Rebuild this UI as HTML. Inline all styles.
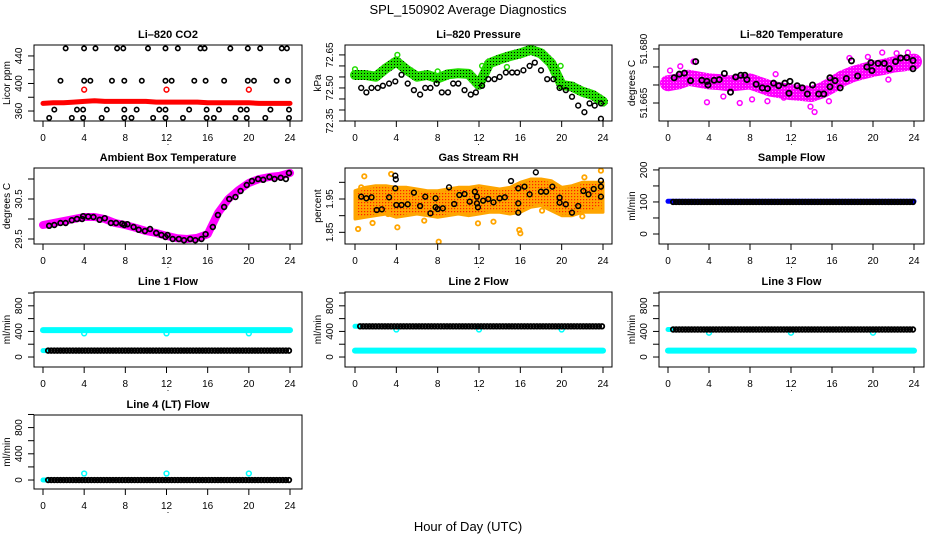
<!DOCTYPE html>
<html><head><meta charset="utf-8"><style>
html,body{margin:0;padding:0;background:#fff;}
svg{display:block;font-family:"Liberation Sans",sans-serif;}
</style></head><body>
<svg id="chart" width="936" height="540" viewBox="0 0 936 540" xmlns="http://www.w3.org/2000/svg">
<defs>
<pattern id="greenPat" width="3" height="3" patternUnits="userSpaceOnUse"><rect width="3" height="3" fill="#22dd00"/><rect x="1" y="1" width="1" height="1" fill="#000"/></pattern>
<pattern id="orangePat" width="3" height="3" patternUnits="userSpaceOnUse"><rect width="3" height="3" fill="#ffa500"/><rect x="1" y="1" width="1.2" height="1.2" fill="#ff2000"/></pattern>
<pattern id="magPat" width="3" height="3" patternUnits="userSpaceOnUse"><rect width="3" height="3" fill="#ff00ff"/><rect x="1" y="1" width="1" height="1" fill="#ff80ff"/></pattern>
</defs>
<text x="468" y="14" text-anchor="middle" font-size="13">SPL_150902  Average Diagnostics</text>
<text x="468" y="531" text-anchor="middle" font-size="13">Hour of Day (UTC)</text>
</svg>
<script>
// ---- data ----
const hrs = [0,1,2,3,4,5,6,7,8,9,10,11,12,13,14,15,16,17,18,19,20,21,22,23,24];
const co2Band = [371,372,372,373,374,375,374,374,374,374,374,373,373,373,373,373,372,372,372,372,372,371,371,371,371];
const co2OutT = [4,12,20];
const co2OutV = [391,391,391];
const co2T = [2.2,3.99,5.1,7.2,7.8,10.2,11.9,13.1,15.3,15.7,18.2,19.9,21.1,23.2,23.7, 1.7,4.0,4.6,6.7,7.9,9.6,11.9,12.5,14.7,15.8,17.6,19.9,20.5,22.7,23.8, 1.1,3.3,3.9,6.2,7.9,9.1,11.3,11.9,14.2,15.9,17.1,19.2,19.8,22.1,23.9, 0.6,2.8,3.9,5.7,7.9,8.6,10.7,11.9,13.6,15.9,16.6,18.7,19.8,21.6,23.9];
const co2V = [451,451,451,451,451,451,451,451,451,451,451,451,451,451,451, 404,404,404,404,404,404,404,404,404,404,404,404,404,404,404, 362,362,362,362,362,362,362,362,362,362,362,362,362,362,362, 350,350,350,350,350,350,350,350,350,350,350,350,350,350,350];

const presBand = [72.559,72.559,72.551,72.589,72.620,72.582,72.551,72.559,72.544,72.562,72.567,72.564,72.514,72.612,72.630,72.645,72.657,72.673,72.657,72.612,72.514,72.506,72.483,72.468,72.438];
const presOutT = [0.0,4.1,4.5,8.0,12.3,14.7,19.9];
const presOutV = [72.585,72.650,72.605,72.575,72.600,72.595,72.600];
const presT = [0.6,1.1,1.6,2.2,2.7,3.3,3.9,4.5,5.1,5.7,6.3,6.8,7.3,7.9,8.4,9.0,9.5,10.0,10.6,11.2,11.7,12.3,12.9,13.5,14.0,14.6,15.2,15.7,16.3,16.9,17.4,18.0,18.6,19.2,19.8,20.4,21.0,21.6,22.2,22.7,23.2,23.8,23.8];
const presV = [72.50,72.48,72.50,72.50,72.51,72.52,72.53,72.56,72.52,72.49,72.47,72.50,72.50,72.52,72.48,72.48,72.52,72.52,72.49,72.47,72.48,72.51,72.54,72.54,72.55,72.57,72.57,72.57,72.58,72.60,72.615,72.58,72.54,72.54,72.50,72.49,72.46,72.42,72.39,72.43,72.42,72.43,72.36];

const tempBand = [51.6705,51.671,51.672,51.6715,51.671,51.6708,51.6704,51.6707,51.671,51.670,51.669,51.6685,51.668,51.6678,51.6675,51.6685,51.670,51.6718,51.673,51.6738,51.6745,51.675,51.6757,51.676,51.6765];
const tempOutT = [0.2,1.2,2.5,3.8,5.4,7.0,8.2,9.7,11.3,12.8,13.9,14.3,15.7,17.7,19.5,20.9,22.3,23.4,21.5,10.5];
const tempOutV = [51.6740,51.6752,51.6765,51.6652,51.6668,51.6650,51.6660,51.6655,51.6665,51.6690,51.6640,51.6625,51.6655,51.6775,51.6778,51.6790,51.6788,51.6790,51.6715,51.6730];
const tempT = [0.6,1.1,1.6,2.2,2.7,3.3,3.8,3.9,4.5,5.0,5.5,6.1,6.6,7.1,7.5,7.7,8.6,9.2,9.7,10.3,10.8,11.4,11.8,11.9,12.6,13.1,13.6,14.1,14.7,15.2,15.8,15.8,16.3,16.8,17.4,17.9,18.5,19.4,19.8,19.9,20.5,21.1,21.6,22.2,22.7,23.3,23.9,23.9];
const tempV = [51.6720,51.6730,51.6733,51.6712,51.6765,51.6713,51.6710,51.6700,51.6713,51.6715,51.6732,51.6680,51.6722,51.6727,51.6727,51.6715,51.6702,51.6692,51.6690,51.6705,51.6698,51.6705,51.6677,51.6710,51.6698,51.6692,51.6675,51.6700,51.6675,51.6675,51.6695,51.6720,51.6712,51.6692,51.6718,51.6767,51.6725,51.6750,51.6762,51.6740,51.6760,51.6760,51.6745,51.6765,51.6775,51.6776,51.6768,51.6745];

const ambBand = [29.85,29.9,29.95,30.0,30.05,30.05,30.0,29.9,29.85,29.78,29.7,29.65,29.58,29.52,29.5,29.53,29.62,30.15,30.5,30.72,30.9,31.0,31.05,31.08,31.15];
const ambT = [0.6,1.1,1.7,2.2,2.8,3.3,3.8,3.9,4.4,4.9,5.5,6.0,6.6,7.1,7.7,7.9,8.2,8.8,9.3,9.9,10.4,11.0,11.5,11.9,12.1,12.6,13.2,13.7,14.3,14.8,15.4,15.8,16.5,17.0,17.6,18.1,18.7,19.2,19.8,20.3,20.9,21.4,22.0,22.5,23.1,23.6,23.9];
const ambV = [29.83,29.85,29.9,29.9,29.97,30.0,30.0,30.07,30.06,30.05,29.98,30.02,29.9,29.9,29.88,29.85,29.87,29.8,29.73,29.7,29.75,29.65,29.6,29.55,29.6,29.5,29.5,29.47,29.5,29.47,29.5,29.62,29.8,30.1,30.3,30.5,30.55,30.7,30.85,30.95,31.0,30.98,31.05,31.0,31.03,31.0,31.15];

const rhHi = [1.975,1.985,1.99,1.99,1.985,1.985,1.98,1.975,1.975,1.98,1.985,1.985,1.99,1.985,1.98,1.985,2.0,2.01,2.01,2.005,1.985,1.99,2.0,2.0,2.0];
const rhLo = [1.89,1.895,1.9,1.905,1.895,1.9,1.905,1.9,1.895,1.9,1.905,1.9,1.905,1.91,1.91,1.905,1.91,1.925,1.93,1.915,1.9,1.9,1.91,1.91,1.91];
const rhOutT = [0.3,0.9,1.7,3.2,3.5,4.1,6.7,8.1,11.9,13.4,15.9,16.0,18.1,22.0,22.2,23.8,23.4,0.6,5.9];
const rhOutV = [1.86,2.018,1.878,1.905,2.025,1.865,1.885,1.822,1.877,1.882,1.857,1.847,1.915,1.898,2.015,2.035,1.917,1.985,1.965];
const rhT = [0.6,1.1,1.6,2.1,2.6,3.3,3.9,3.95,3.9,4.0,4.5,5.1,5.7,6.3,6.8,7.3,7.8,7.8,8.0,8.5,9.1,9.6,10.1,10.6,11.1,11.6,11.8,11.9,11.8,12.4,12.9,13.4,14.0,14.5,15.1,15.8,15.8,15.8,16.4,16.9,17.5,18.0,18.5,19.1,19.8,19.8,20.4,21.0,21.6,22.1,22.6,23.1,23.8,23.8,23.8];
const rhV = [1.957,1.952,1.955,1.917,1.919,1.955,2.020,2.009,1.982,1.932,1.932,1.934,1.969,1.929,1.957,1.907,1.952,1.925,1.920,1.922,1.985,1.935,1.962,1.965,1.942,1.972,1.957,1.925,1.937,1.945,1.950,1.940,1.952,1.955,2.004,1.982,1.937,1.909,1.987,1.964,2.030,1.972,1.972,1.987,1.954,1.939,1.934,1.909,1.929,1.974,1.964,1.980,2.005,1.987,1.957];

const sampleBlue = 102;
const sampleBlack = 100;
const line1Cyan = 420, line1Black = 100, line1Out = 370;
const line2Cyan = 100, line2Black = 480, line2Out = 430;
const line3Cyan = 100, line3Black = 430, line3Out = 380;
const line4Cyan = 0, line4Black = 0, line4Out = 100;
const flowOutT = [4,12,20];
const xTicks = [0,4,8,12,16,20,24];

// ---- layout ----
const svg = document.getElementById('chart');
const NS = 'http://www.w3.org/2000/svg';
const cols = [{L:34,R:302,x0:43,x24:290},{L:345,R:612,x0:355,x24:603},{L:659,R:924,x0:668,x24:914}];
const rows = [{T:45,B:121},{T:168,B:244},{T:292,B:367},{T:415,B:489}];

function el(tag, attrs, parent){
  const e = document.createElementNS(NS, tag);
  for (const k in attrs) e.setAttribute(k, attrs[k]);
  (parent||svg).appendChild(e);
  return e;
}

function panel(c, r, name, title, ylab, ymin, ymax, ticks, labs){
  const C = cols[c], R = rows[r];
  const g = el('g', {});
  
  
  const p = {g:g, C:C, R:R,
    x: h => C.x0 + h*(C.x24-C.x0)/24,
    y: v => R.B - (v-ymin)/(ymax-ymin)*(R.B-R.T)};
  const clip = el('clipPath', {id:'clip-'+name}, g);
  el('rect', {x:C.L, y:R.T, width:C.R-C.L, height:R.B-R.T}, clip);
  p.plot = el('g', {'clip-path':'url(#clip-'+name+')'}, g);
  
  
  const t = el('text', {x:(C.L+C.R)/2, y:R.T-7, 'text-anchor':'middle', 'font-size':'11', 'font-weight':'bold'}, g);
  t.textContent = title;
  
  
  const box = el('rect', {x:C.L, y:R.T, width:C.R-C.L, height:R.B-R.T, fill:'none', stroke:'#000', 'stroke-width':'1'}, g);
  
  
  const xa = el('g', {}, g);
  
  
  el('line', {x1:p.x(0), x2:p.x(24), y1:R.B, y2:R.B, stroke:'#000'}, xa);
  xTicks.forEach(h => {
    el('line', {x1:p.x(h), x2:p.x(h), y1:R.B, y2:R.B+6, stroke:'#000'}, xa);
    const tl = el('text', {x:p.x(h), y:R.B+20, 'text-anchor':'middle', 'font-size':'10'}, xa);
    tl.textContent = h;
    
    
  });
  const dot = el('text', {x:(C.L+C.R)/2, y:R.B+24, 'text-anchor':'middle', 'font-size':'9'}, xa);
  dot.textContent = '.';
  const ya = el('g', {}, g);
  
  
  el('line', {x1:C.L, x2:C.L, y1:p.y(ticks[0]), y2:p.y(ticks[ticks.length-1]), stroke:'#000'}, ya);
  ticks.forEach(v => el('line', {x1:C.L-6, x2:C.L, y1:p.y(v), y2:p.y(v), stroke:'#000'}, ya));
  labs.forEach(s => {
    const yy = p.y(parseFloat(s));
    const tl = el('text', {x:C.L-12, y:yy, 'text-anchor':'middle', 'font-size':'10', transform:'rotate(-90 '+(C.L-12)+' '+yy+')'}, ya);
    tl.textContent = s;
    
    
  });
  const yl = el('text', {x:C.L-24, y:(R.T+R.B)/2, 'text-anchor':'middle', 'font-size':'10', transform:'rotate(-90 '+(C.L-24)+' '+((R.T+R.B)/2)+')'}, ya);
  yl.textContent = ylab;
  
  
  return p;
}

function band(p, ts, vs, color, width, nm){
  const pts = ts.map((h,i) => p.x(h).toFixed(1)+','+p.y(vs[i]).toFixed(1)).join(' ');
  const pl = el('polyline', {points:pts, fill:'none', stroke:color, 'stroke-width':width, 'stroke-linejoin':'round', 'stroke-linecap':'round'}, p.plot);
  
  
}
function area(p, ts, hi, lo, fill, nm){
  const up = ts.map((h,i) => p.x(h).toFixed(1)+','+p.y(hi[i]).toFixed(1));
  const dn = ts.map((h,i) => p.x(h).toFixed(1)+','+p.y(lo[i]).toFixed(1)).reverse();
  const pg = el('polygon', {points:up.concat(dn).join(' '), fill:fill, stroke:'#ffa500', 'stroke-width':'3', 'stroke-linejoin':'round'}, p.plot);
  
  
}
function pts(p, ts, vs, color, nm, r, sw){
  const g = el('g', {}, p.plot);
  
  
  ts.forEach((h,i) => {
    const c = el('circle', {cx:p.x(h), cy:p.y(vs[i]), r:r||2.4, fill:'none', stroke:color, 'stroke-width':sw||1.5}, g);
    
    
  });
}
function flowTimes(){ const a=[]; for (let t=0.5; t<=23.95; t+=0.3) a.push(t); return a; }
const fT = flowTimes();
const fill = (arr, v) => arr.map(() => v);

let p = panel(0,0,'co2-panel','Li\u2013820 CO2','Licor ppm',345.5,455.9,[360,380,400,420,440],['360','400','440']);
band(p, hrs, co2Band, '#ff0000', 5, 'co2-red-series');
pts(p, co2OutT, co2OutV, '#ff0000', 'co2-red-outliers');
pts(p, co2T, co2V, '#000', 'co2-black-series', 2.2, 1.6);

p = panel(1,0,'pressure-panel','Li\u2013820 Pressure','kPa',72.35,72.695,[72.35,72.40,72.45,72.50,72.55,72.60,72.65],['72.35','72.50','72.65']);
band(p, hrs, presBand, 'url(#greenPat)', 10, 'pressure-green-series');
pts(p, presOutT, presOutV, '#22dd00', 'pressure-green-outliers');
pts(p, presT, presV, '#000', 'pressure-black-series');

p = panel(2,0,'temperature-panel','Li\u2013820 Temperature','degrees C',51.660,51.6811,[51.665,51.670,51.675,51.680],['51.665','51.680']);
band(p, hrs, tempBand, 'url(#magPat)', 16, 'temperature-magenta-series');
pts(p, tempOutT, tempOutV, '#ff00ff', 'temperature-magenta-outliers');
pts(p, tempT, tempV, '#000', 'temperature-black-series', 2.6, 1.8);

p = panel(0,1,'ambient-panel','Ambient Box Temperature','degrees C',29.375,31.275,[29.5,30,30.5,31],['29.5','30.5']);
band(p, hrs, ambBand, '#ff00ff', 8, 'ambient-magenta-series');
pts(p, ambT, ambV, '#000', 'ambient-black-series', 2.4, 1.7);

p = panel(1,1,'rh-panel','Gas Stream RH','percent',1.815,2.043,[1.85,1.90,1.95,2.00],['1.85','1.95']);
area(p, hrs, rhHi, rhLo, 'url(#orangePat)', 'rh-orange-series');
pts(p, rhOutT, rhOutV, '#ffa500', 'rh-orange-outliers', 2.2, 1.8);
pts(p, rhT, rhV, '#000', 'rh-black-series');

p = panel(2,1,'sample-flow-panel','Sample Flow','ml/min',-31.25,206,[0,50,100,150,200],['0','100','200']);
band(p, [0,24], [sampleBlue,sampleBlue], '#0000ff', 5, 'sample-blue-series');
pts(p, fT, fill(fT, sampleBlack), '#000', 'sample-black-series', 2.3, 1.8);

const flowTicks = [0,200,400,600,800,1000], flowLabs = ['0','400','800'];
p = panel(0,2,'line1-panel','Line 1 Flow','ml/min',-156,1016,flowTicks,flowLabs);
band(p, [0,24], [line1Cyan,line1Cyan], '#00ffff', 6, 'line1-cyan-series');
band(p, [0,0.4], [line1Black,line1Black], '#00ffff', 5, 'line1-cyan-start');
pts(p, flowOutT, fill(flowOutT, line1Out), '#00ffff', 'line1-cyan-outliers');
pts(p, fT, fill(fT, line1Black), '#000', 'line1-black-series', 2.3, 1.8);

p = panel(1,2,'line2-panel','Line 2 Flow','ml/min',-156,1016,flowTicks,flowLabs);
band(p, [0,24], [line2Cyan,line2Cyan], '#00ffff', 6, 'line2-cyan-series');
band(p, [0,0.4], [line2Black,line2Black], '#00ffff', 5, 'line2-cyan-start');
pts(p, flowOutT, fill(flowOutT, line2Out), '#00ffff', 'line2-cyan-outliers');
pts(p, fT, fill(fT, line2Black), '#000', 'line2-black-series', 2.3, 1.8);

p = panel(2,2,'line3-panel','Line 3 Flow','ml/min',-156,1016,flowTicks,flowLabs);
band(p, [0,24], [line3Cyan,line3Cyan], '#00ffff', 6, 'line3-cyan-series');
band(p, [0,0.4], [line3Black,line3Black], '#00ffff', 5, 'line3-cyan-start');
pts(p, flowOutT, fill(flowOutT, line3Out), '#00ffff', 'line3-cyan-outliers');
pts(p, fT, fill(fT, line3Black), '#000', 'line3-black-series', 2.3, 1.8);

p = panel(0,3,'line4-panel','Line 4 (LT) Flow','ml/min',-137,992,flowTicks,flowLabs);
band(p, [0,0.4], [line4Cyan,line4Cyan], '#00ffff', 5, 'line4-cyan-start');
pts(p, flowOutT, fill(flowOutT, line4Out), '#00ffff', 'line4-cyan-outliers');
pts(p, fT, fill(fT, line4Black), '#000', 'line4-black-series', 2.3, 1.8);
</script>
</body></html>
